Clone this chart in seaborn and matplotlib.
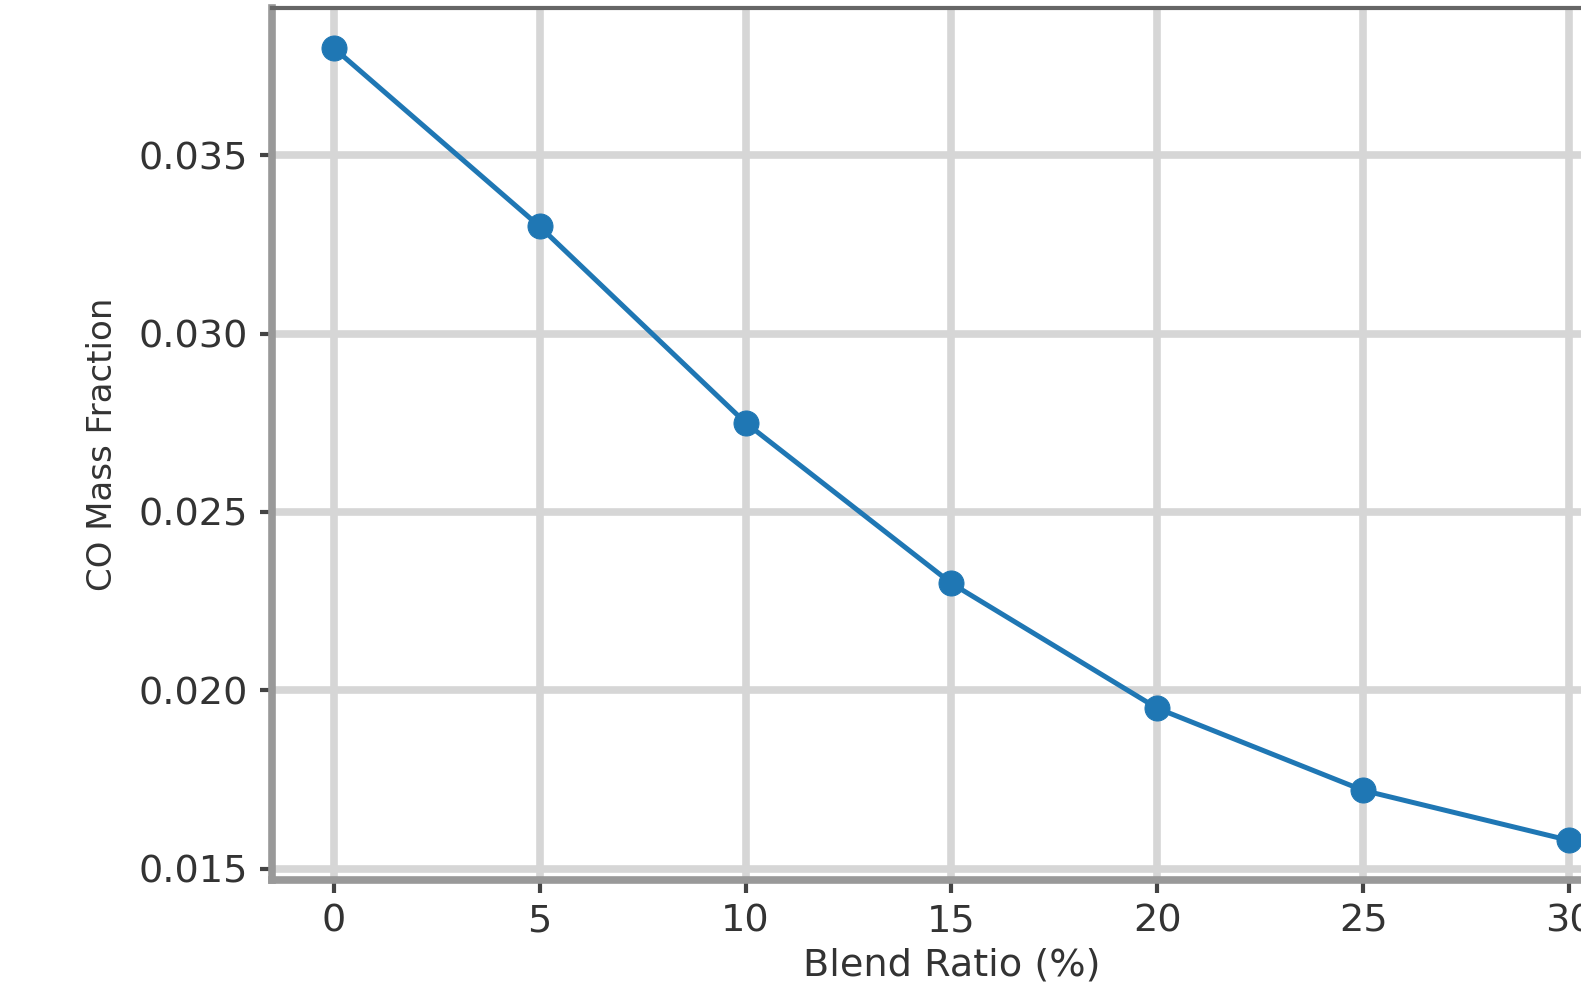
import matplotlib
matplotlib.use("Agg")
import matplotlib.pyplot as plt
import seaborn as sns
import pandas as pd

blend_ratio = [0, 5, 10, 15, 20, 25, 30]
co_mass_fraction = [0.0380, 0.0330, 0.0275, 0.0230, 0.0195, 0.0172, 0.0158]
yticks = [0.015, 0.020, 0.025, 0.030, 0.035]
xticks = [0, 5, 10, 15, 20, 25, 30]

df = pd.DataFrame({"Blend Ratio (%)": blend_ratio, "CO Mass Fraction": co_mass_fraction})

plt.rcParams['font.family'] = ['DejaVu Sans']
fig = plt.figure(figsize=(15.81, 9.85), dpi=100)
ax = fig.add_axes([0.172, 0.1066, 1.0316 - 0.172, 0.9919 - 0.1066])

sns.lineplot(data=df, x="Blend Ratio (%)", y="CO Mass Fraction", ax=ax,
             marker="o", markersize=18, linewidth=3.6, color="#1f77b4",
             markeredgecolor="#1f77b4", zorder=3)

ax.set_xlim(-1.5, 31.5)
ax.set_ylim(0.01469, 0.03912)
ax.set_xticks(xticks)
ax.set_yticks(yticks)
ax.set_yticklabels([f"{v:.3f}" for v in yticks])
ax.grid(True, color="#d6d6d6", linewidth=5.5)
ax.set_axisbelow(True)
ax.tick_params(labelsize=27.5, length=9, width=3, colors="#444444", labelcolor="#333333", pad=8)
ax.set_xlabel("Blend Ratio (%)", fontsize=27.5, color="#333333", labelpad=6)
ax.set_ylabel("CO Mass Fraction", fontsize=24.5, color="#333333", labelpad=14)
for s in ["left", "bottom"]:
    ax.spines[s].set_color("#999999")
    ax.spines[s].set_linewidth(5.5)
ax.spines["top"].set_color("#666666")
ax.spines["top"].set_linewidth(3)
ax.spines["right"].set_color("#666666")

fig.savefig("out.png", dpi=100)
